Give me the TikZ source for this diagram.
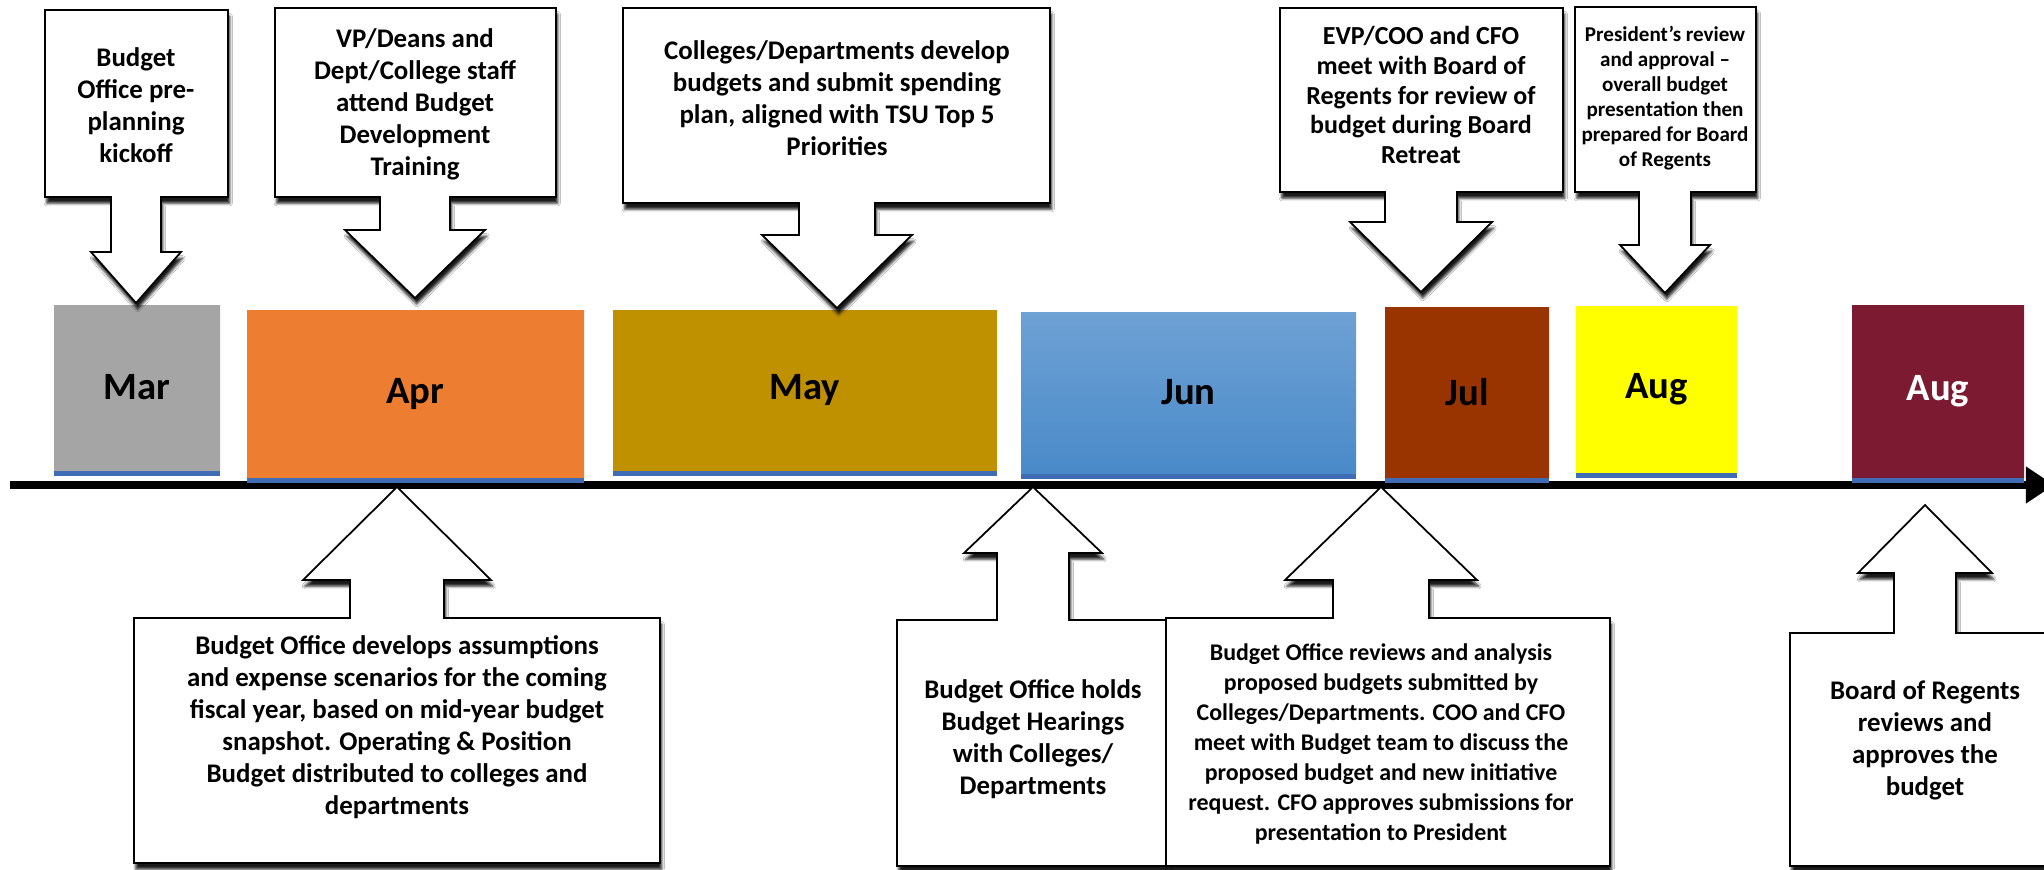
\documentclass[tikz,border=0pt]{standalone}
\usepackage{fontspec}
\setmainfont{Carlito}
\usetikzlibrary{arrows.meta}
\usetikzlibrary{shadows.blur}

\definecolor{marfill}{HTML}{A5A5A5}
\definecolor{aprfill}{HTML}{ED7D31}
\definecolor{mayfill}{HTML}{BF9000}
\definecolor{junfill}{HTML}{4A8AC9}
\definecolor{julfill}{HTML}{993300}
\definecolor{augfill}{HTML}{FFFF00}
\definecolor{boardfill}{HTML}{7B1A30}
\definecolor{edgeblue}{HTML}{3F6CB4}

% box with a block arrow:
% left, right, far edge, arrow edge, arrow x, shaft half, head half, head base, tip
\newcommand{\budgetarrow}[9]{%
  \filldraw[callout] (#1,#3) -- (#2,#3) -- (#2,#4) -- (#5+#6,#4) -- (#5+#6,#8)
    -- (#5+#7,#8) -- (#5,#9) -- (#5-#7,#8) -- (#5-#6,#8) -- (#5-#6,#4) -- (#1,#4) -- cycle;}

\begin{document}
\begin{tikzpicture}[x=0.02cm,y=-0.02cm,
    callout/.style={fill=white,draw=black,line width=1pt,
      blur shadow={shadow xshift=1pt,shadow yshift=-3.5pt,shadow blur radius=1.5pt,shadow opacity=90}},
    note/.style={align=center,font=\bfseries\fontsize{15.3}{18.2}\selectfont},
    month/.style={font=\bfseries\fontsize{22}{24}\selectfont}]
  \fill[white] (0,0) rectangle (2044,869);
  \useasboundingbox (0,0) rectangle (2044,869);

  % time line
  \coordinate (start) at (10,485);
  \coordinate (end) at (2054,485);
  \draw[line width=4.8pt,-{Triangle[length=16pt,width=20pt]}] (start) -- (end);

  % months
  \foreach \xa/\xb/\ya/\yb/\col/\tint/\nm/\lab/\tc in {
      54/220/305/470/marfill/100/mar/Mar/black,
      247/584/310/477/aprfill/100/apr/Apr/black,
      613/997/310/470/mayfill/100/may/May/black,
      1021/1356/312/473/junfill/80/jun/Jun/black,
      1385/1549/307/477/julfill/100/jul/Jul/black,
      1576/1737/306/472/augfill/100/aug/Aug/black,
      1852/2024/305/477/boardfill/100/board/Aug/white}{
    \fill[edgeblue] (\xa,\yb) rectangle (\xb,\yb+6);
    \shade[top color=\col!\tint!white,bottom color=\col] (\xa,\ya) rectangle (\xb,\yb);
    \node[month,text=\tc] (\nm) at ({(\xa+\xb)/2},{(\ya+\yb)/2}) {\lab};
  }

  % events above the line
  \budgetarrow{45}{228}{10}{197}{136}{25}{45}{252}{303}
  \node[note] (kickoff) at (136,105) {Budget\\Office pre-\\planning\\kickoff};

  \budgetarrow{275}{556}{8}{197}{415}{35}{70}{230}{298}
  \node[note] (training) at (415,104) {VP/Deans and\\Dept/College staff\\attend Budget\\Development\\Training};

  \budgetarrow{623}{1050}{8}{203}{837}{38}{75}{235}{308}
  \node[note] (spending) at (837,98) {Colleges/Departments develop\\budgets and submit spending\\plan, aligned with TSU Top 5\\Priorities};

  \budgetarrow{1280}{1563}{8}{192}{1421}{36}{71}{222}{292}
  \node[note,font=\bfseries\fontsize{14.8}{17}\selectfont] (retreat) at (1421,95) {EVP/COO and CFO\\meet with Board of\\Regents for review of\\budget during Board\\Retreat};

  \budgetarrow{1575}{1756}{7}{192}{1665}{26}{45}{245}{293}
  \node[note,font=\bfseries\fontsize{12}{14.2}\selectfont] (president) at (1665,98) {President’s review\\and approval –\\overall budget\\presentation then\\prepared for Board\\of Regents};

  % events below the line
  \budgetarrow{134}{660}{863}{618}{397}{47}{94}{580}{487}
  \node[note] (assumptions) at (397,727) {Budget Office develops assumptions\\and expense scenarios for the coming\\fiscal year, based on mid-year budget\\snapshot.  Operating \& Position\\Budget distributed to colleges and\\departments};

  \budgetarrow{897}{1168}{866}{620}{1033}{36}{69}{553}{487}
  \node[note] (hearings) at (1033,739) {Budget Office holds\\Budget Hearings\\with Colleges/\\Departments};

  \budgetarrow{1166}{1610}{866}{618}{1381}{48}{96}{580}{487}
  \node[note,font=\bfseries\fontsize{13.6}{17}\selectfont] (analysis) at (1381,744) {Budget Office reviews and analysis\\proposed budgets submitted by\\Colleges/Departments. COO and CFO\\meet with Budget team to discuss the\\proposed budget and new initiative\\request. CFO approves submissions for\\presentation to President};

  \budgetarrow{1790}{2060}{866}{633}{1925}{31}{67}{573}{505}
  \node[note] (approval) at (1925,740) {Board of Regents\\reviews and\\approves the\\budget};
\end{tikzpicture}
\end{document}
